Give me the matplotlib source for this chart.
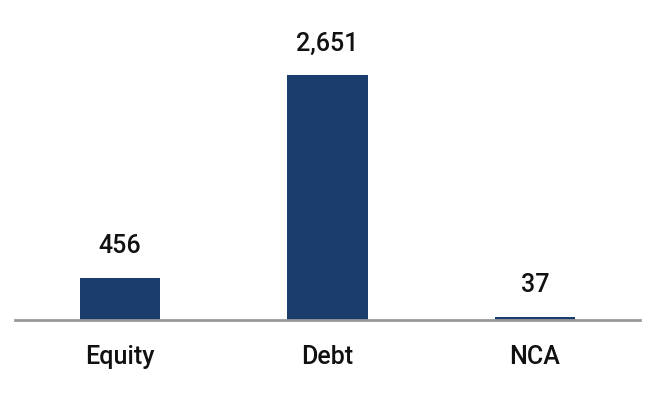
import matplotlib
matplotlib.use("Agg")
import matplotlib.pyplot as plt

categories = ["Equity", "Debt", "NCA"]
values = [456, 2651, 37]
labels = ["456", "2,651", "37"]

plt.rcParams['font.family'] = ['Roboto', 'DejaVu Sans']

fig = plt.figure(figsize=(6.5, 4), dpi=100)
ax = fig.add_axes([15/650, 80/400, 625/650, 300/400])
x = list(range(len(categories)))
bars = ax.bar(x, values, width=0.39, color="#1b3d6e", zorder=2)
for xi, v, lab in zip(x, values, labels):
    ax.annotate(lab, (xi, v), xytext=(0, 14), textcoords="offset points",
                ha="center", va="bottom", fontsize=18, fontweight="medium",
                color="#111111")
ax.set_xlim(-0.506, 2.506)
ax.set_ylim(0, 2651 * 300 / 245)
ax.set_xticks(x)
ax.set_xticklabels(categories, fontsize=18, fontweight="medium", color="#111111")
ax.tick_params(axis="x", length=0, pad=18)
ax.set_yticks([])
for s in ["top", "right", "left"]:
    ax.spines[s].set_visible(False)
ax.spines["bottom"].set_color("#999999")
ax.spines["bottom"].set_linewidth(2)
ax.spines["bottom"].set_zorder(3)
fig.savefig("out.png", dpi=100)
